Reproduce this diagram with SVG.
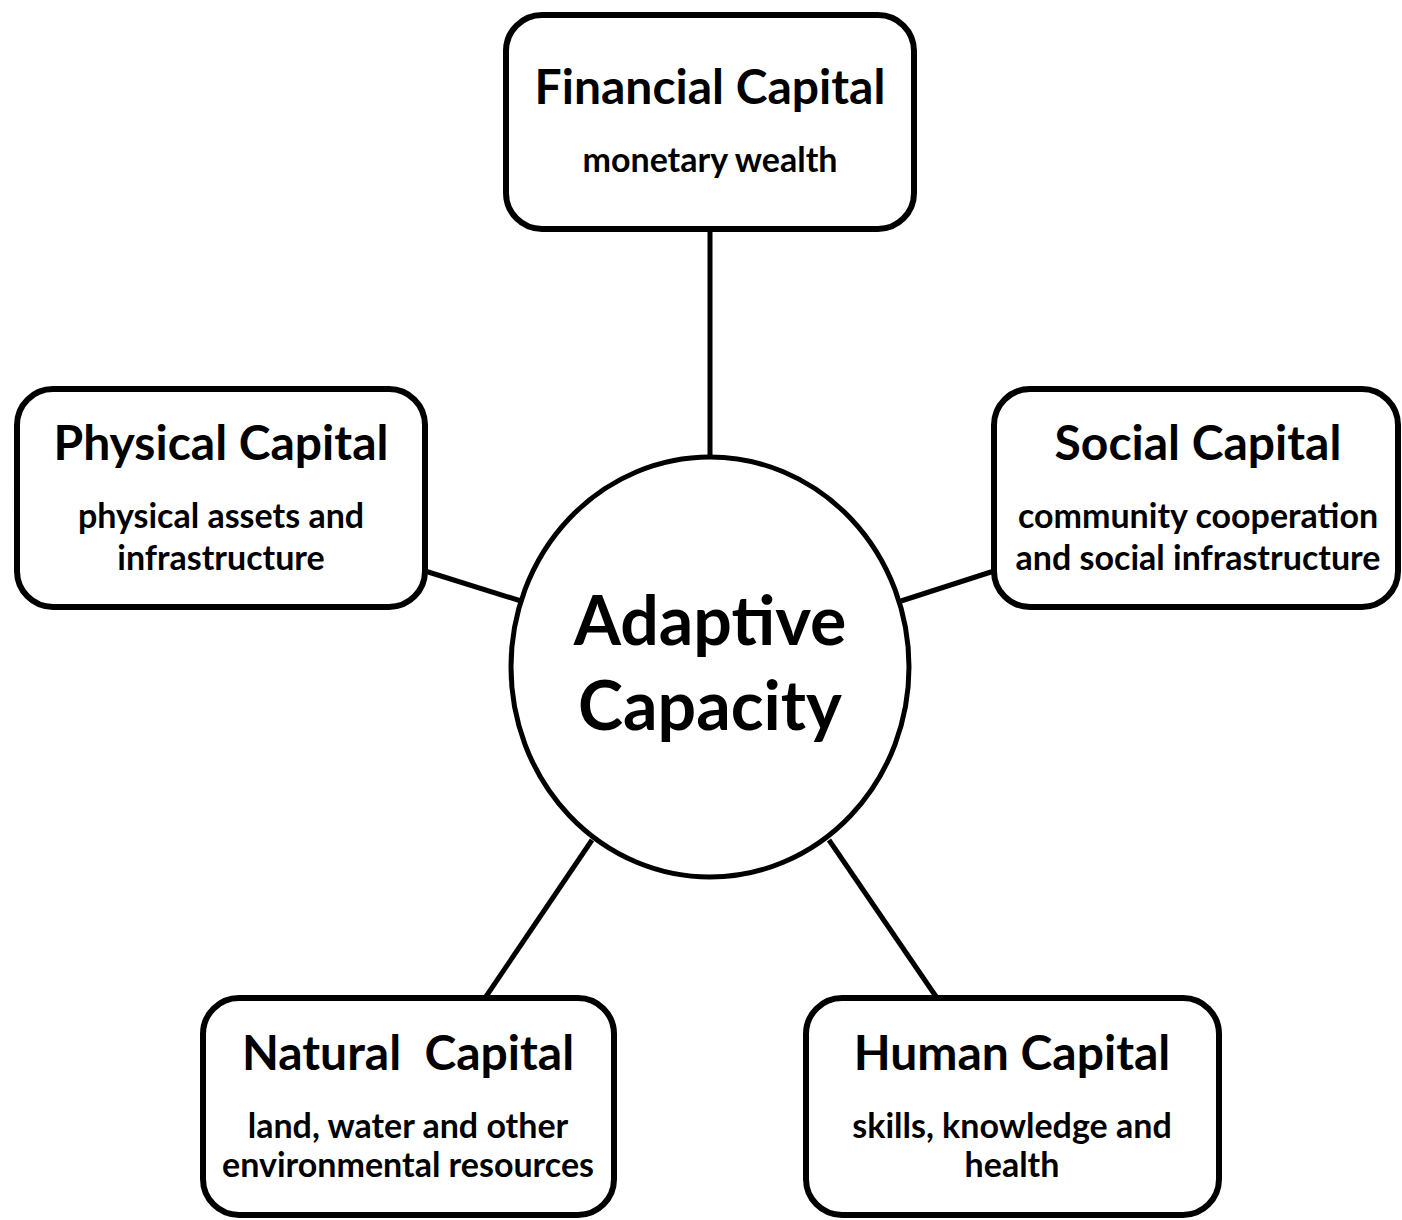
<svg xmlns="http://www.w3.org/2000/svg" width="1402" height="1220" viewBox="0 0 1402 1220">
  <style>
    .box { fill: #ffffff; stroke: #000000; stroke-width: 6; }
    .hub { fill: #ffffff; stroke: #000000; stroke-width: 5; }
    .link { stroke: #000000; stroke-width: 5; fill: none; }
    text { font-family: "Lato", "Open Sans", sans-serif; font-weight: 700; fill: #000000; text-anchor: middle; }
    .title { font-size: 48px; }
    .sub { font-size: 34px; }
    .center { font-size: 68px; }
  </style>
  <rect width="1402" height="1220" fill="#ffffff"/>
  <g id="connectors">
    <line class="link" x1="710" y1="229" x2="710" y2="458"/>
    <line class="link" x1="425" y1="571" x2="521" y2="601"/>
    <line class="link" x1="994" y1="571" x2="901" y2="601"/>
    <line class="link" x1="485" y1="998" x2="592" y2="840"/>
    <line class="link" x1="937" y1="998" x2="829" y2="840"/>
  </g>
  <g id="adaptive-capacity">
    <ellipse class="hub" cx="710" cy="667" rx="199" ry="210"/>
    <text class="center" x="710" y="645">Adaptive</text>
    <text class="center" x="710" y="730">Capacity</text>
  </g>
  <g id="financial-capital">
    <rect class="box" x="506" y="15" width="408" height="214" rx="36" ry="36"/>
    <text class="title" x="710" y="104">Financial Capital</text>
    <text class="sub" x="710" y="172">monetary wealth</text>
  </g>
  <g id="physical-capital">
    <rect class="box" x="17" y="389" width="408" height="218" rx="36" ry="36"/>
    <text class="title" x="221" y="460">Physical Capital</text>
    <text class="sub" x="221" y="528">physical assets and</text>
    <text class="sub" x="221" y="570">infrastructure</text>
  </g>
  <g id="social-capital">
    <rect class="box" x="994" y="389" width="404" height="218" rx="36" ry="36"/>
    <text class="title" x="1198" y="460">Social Capital</text>
    <text class="sub" x="1198" y="528">community cooperation</text>
    <text class="sub" x="1198" y="570">and social infrastructure</text>
  </g>
  <g id="natural-capital">
    <rect class="box" x="203" y="998" width="411" height="217" rx="36" ry="36"/>
    <text class="title" x="408" y="1070" xml:space="preserve">Natural  Capital</text>
    <text class="sub" x="408" y="1138">land, water and other</text>
    <text class="sub" x="408" y="1177">environmental resources</text>
  </g>
  <g id="human-capital">
    <rect class="box" x="806" y="998" width="413" height="217" rx="36" ry="36"/>
    <text class="title" x="1012" y="1070">Human Capital</text>
    <text class="sub" x="1012" y="1138">skills, knowledge and</text>
    <text class="sub" x="1012" y="1177">health</text>
  </g>
</svg>
